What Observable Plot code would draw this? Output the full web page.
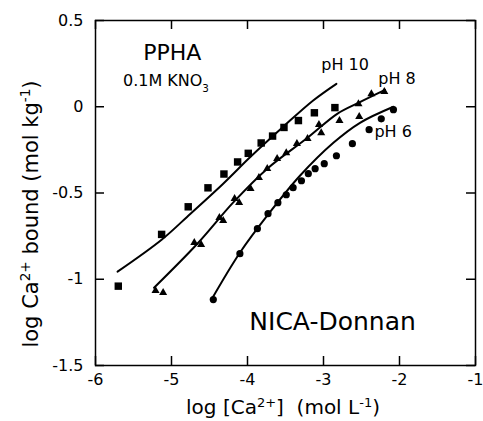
<!DOCTYPE html>
<html><head><meta charset="utf-8">
<script src="https://cdn.jsdelivr.net/npm/d3@7"></script>
<script src="https://cdn.jsdelivr.net/npm/@observablehq/plot@0.6"></script>
<style>body{margin:0;background:#fff}#chart{width:483px;height:421px}</style>
</head><body><div id="chart"></div>
<script>
// Tick values
const xTicks = [-6, -5, -4, -3, -2, -1];
const yTicks = [-1.5, -1, -0.5, 0, 0.5];

// pH 10 measured (squares)
const ph10X = [-5.70, -5.13, -4.78, -4.52, -4.31, -4.13, -3.99, -3.82, -3.67, -3.52, -3.33, -3.12, -2.85];
const ph10Y = [-1.04, -0.74, -0.58, -0.47, -0.39, -0.32, -0.27, -0.21, -0.17, -0.12, -0.08, -0.035, -0.005];
// pH 10 NICA-Donnan fit
const fit10X = [-5.71, -5.13, -4.75, -4.32, -3.96, -3.53, -3.14, -2.83];
const fit10Y = [-0.956, -0.771, -0.620, -0.446, -0.290, -0.116, 0.035, 0.133];

// pH 8 measured (triangles)
const ph8X = [-5.21, -5.11, -4.70, -4.61, -4.37, -4.32, -4.17, -4.11, -3.96, -3.85, -3.74, -3.61, -3.49, -3.35, -3.21, -3.03, -3.06, -2.79, -2.53, -2.54, -2.37, -2.20];
const ph8Y = [-1.066, -1.078, -0.788, -0.800, -0.643, -0.660, -0.533, -0.556, -0.475, -0.411, -0.359, -0.301, -0.267, -0.214, -0.185, -0.151, -0.104, -0.081, -0.058, 0.017, 0.075, 0.087];
// pH 8 fit
const fit8X = [-5.23, -4.66, -4.19, -3.74, -3.21, -2.82, -2.54, -2.19];
const fit8Y = [-1.049, -0.794, -0.556, -0.359, -0.180, -0.041, 0.023, 0.098];

// pH 6 measured (circles)
const ph6X = [-4.45, -4.10, -3.87, -3.73, -3.60, -3.49, -3.40, -3.29, -3.20, -3.11, -2.99, -2.83, -2.62, -2.40, -2.24, -2.08];
const ph6Y = [-1.118, -0.852, -0.707, -0.620, -0.556, -0.510, -0.469, -0.429, -0.388, -0.359, -0.330, -0.284, -0.214, -0.133, -0.070, -0.017];
// pH 6 fit
const fit6X = [-4.46, -4.10, -3.71, -3.31, -2.87, -2.52, -2.08];
const fit6Y = [-1.107, -0.846, -0.614, -0.400, -0.209, -0.093, 0.000];

// Annotations
const seriesLabels = ["pH 10", "pH 8", "pH 6"];
const labelX = [-2.715, -2.032, -2.084];
const labelY = [0.214, 0.133, -0.174];
const titleText = "PPHA";
const modelText = "NICA-Donnan";

const zip = (xs, ys) => xs.map((x, i) => ({x, y: ys[i]}));
const FONT = "DejaVu Sans, sans-serif";

const plot = Plot.plot({
  width: 483, height: 421,
  marginLeft: 95, marginRight: 8, marginTop: 20, marginBottom: 56,
  x: {domain: [-6, -1]},
  y: {domain: [-1.5, 0.5]},
  style: {fontFamily: FONT, background: "white", color: "black"},
  marks: [
    Plot.frame({stroke: "black", strokeWidth: 1.5}),
    Plot.tickX(xTicks, {x: d => d, insetTop: 336, strokeWidth: 1.5}),
    Plot.tickX(xTicks, {x: d => d, insetBottom: 336, strokeWidth: 1.5}),
    Plot.tickY(yTicks, {y: d => d, insetRight: 371, strokeWidth: 1.5}),
    Plot.tickY(yTicks, {y: d => d, insetLeft: 371, strokeWidth: 1.5}),
    Plot.axisX({ticks: xTicks, tickSize: 0, tickPadding: 8, tickFormat: d => String(d), fontSize: 16, label: null}),
    Plot.axisY({ticks: yTicks, tickSize: 0, tickPadding: 12, tickFormat: d => String(d), fontSize: 16, label: null}),
    Plot.line(zip(fit10X, fit10Y), {x: "x", y: "y", curve: "catmull-rom", strokeWidth: 2, stroke: "black"}),
    Plot.line(zip(fit8X, fit8Y), {x: "x", y: "y", curve: "catmull-rom", strokeWidth: 2, stroke: "black"}),
    Plot.line(zip(fit6X, fit6Y), {x: "x", y: "y", curve: "catmull-rom", strokeWidth: 2, stroke: "black"}),
    Plot.dot(zip(ph10X, ph10Y), {x: "x", y: "y", symbol: "square", r: 4.2, fill: "black", stroke: null}),
    Plot.dot(zip(ph8X, ph8Y), {x: "x", y: "y", symbol: "triangle", r: 3, fill: "black", stroke: null}),
    Plot.dot(zip(ph6X, ph6Y), {x: "x", y: "y", symbol: "circle", r: 3.6, fill: "black", stroke: null}),
    Plot.text(seriesLabels, {x: (d, i) => labelX[i], y: (d, i) => labelY[i], text: d => d,
      textAnchor: (d, i) => i === 0 ? "middle" : "start", lineAnchor: "bottom", fontSize: 16, fill: "black"}),
    Plot.text([titleText], {x: -4.99, y: 0.272, text: d => d, textAnchor: "middle", lineAnchor: "bottom", fontSize: 22, fill: "black"}),
    Plot.text([modelText], {x: -3.976, y: -1.292, text: d => d, textAnchor: "start", lineAnchor: "bottom", fontSize: 25, fill: "black"})
  ]
});

document.getElementById("chart").appendChild(plot);

const svg = d3.select(plot);
const sx = plot.scale("x"), sy = plot.scale("y");

function richText(parent, parts, size) {
  const t = parent.append("text").attr("font-family", FONT).attr("font-size", size).attr("fill", "black");
  for (const [s, shift] of parts) {
    const ts = t.append("tspan").text(s);
    if (shift) ts.attr("baseline-shift", shift).attr("font-size", size * 0.65);
  }
  return t;
}

// 0.1M KNO3
richText(svg, [["0.1M KNO", null], ["3", "sub"]], 16)
  .attr("x", sx.apply(-5.632)).attr("y", sy.apply(0.116)).attr("text-anchor", "start");

// X axis title
richText(svg, [["log [Ca", null], ["2+", "super"], ["]  (mol L", null], ["-1", "super"], [")", null]], 20)
  .attr("x", 283).attr("y", 414).attr("text-anchor", "middle").style("white-space", "pre");

// Y axis title
const gy = svg.append("g").attr("transform", "translate(38,214) rotate(-90)");
richText(gy, [["log Ca", null], ["2+", "super"], [" bound (mol kg", null], ["-1", "super"], [")", null]], 21)
  .attr("text-anchor", "middle");
</script>
</body></html>
